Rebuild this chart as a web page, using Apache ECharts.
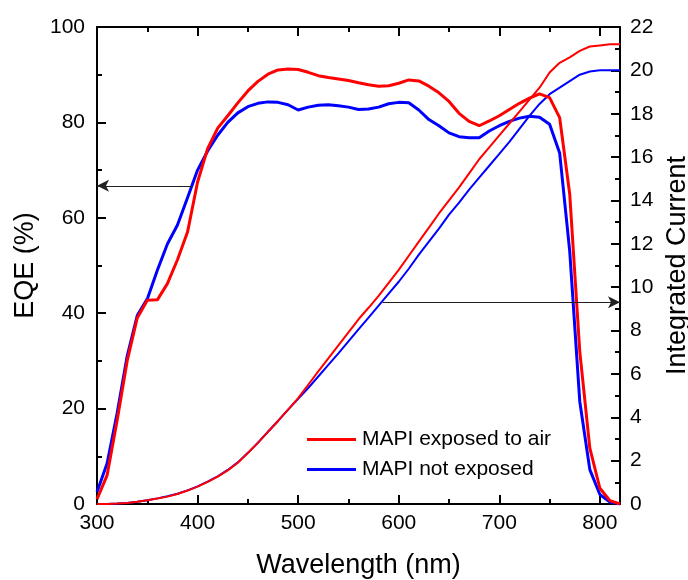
<!DOCTYPE html>
<html>
<head>
  <meta charset="utf-8">
  <title>EQE and integrated current</title>
  <script src="https://cdn.jsdelivr.net/npm/echarts@6/dist/echarts.min.js"></script>
</head>
<style>
  html, body, #chart {
    margin: 0;
    padding: 0;
    width: 688px;
    height: 580px;
    background: #fff;
  }
</style>
<body>
  <div id="chart"></div>
  <script type="text/javascript">
    var wavelength = [300, 310, 320, 330, 340, 350, 360, 370, 380, 390,
      400, 410, 420, 430, 440, 450, 460, 470, 480, 490,
      500, 510, 520, 530, 540, 550, 560, 570, 580, 590,
      600, 610, 620, 630, 640, 650, 660, 670, 680, 690,
      700, 710, 720, 730, 740, 750, 760, 770, 780, 790,
      800, 810, 820];

    // EQE (%) - left axis
    var eqeAir = [1, 6, 17.5, 30, 39, 42.7, 42.8, 46.2, 51.2, 57,
      67.5, 74.5, 78.8, 81.4, 84.1, 86.6, 88.6, 90.1, 91, 91.2,
      91.1, 90.5, 89.8, 89.4, 89.1, 88.8, 88.3, 87.9, 87.6, 87.7,
      88.2, 88.9, 88.7, 87.6, 86.2, 84.4, 81.9, 80.2, 79.3, 80.3,
      81.4, 82.7, 84, 85.1, 86, 85.2, 81, 65, 32, 11.7,
      3.3, 0.7, 0];
    var eqeNot = [2.5, 8.5, 19, 31, 39.5, 43, 49, 54.5, 58.5, 64.2,
      70, 74, 77.3, 80, 82, 83.3, 84, 84.3, 84.2, 83.7,
      82.6, 83.2, 83.6, 83.7, 83.5, 83.2, 82.7, 82.8, 83.2, 83.9,
      84.2, 84.1, 82.6, 80.6, 79.3, 77.8, 77, 76.8, 76.8, 78.2,
      79.3, 80.2, 80.9, 81.3, 81.1, 79.6, 73.6, 53, 21.5, 7.2,
      2, 0.4, 0];

    // integrated current - right axis
    var jAir = [0, 0, 0.02, 0.05, 0.1, 0.17, 0.25, 0.34, 0.46, 0.62,
      0.8, 1.02, 1.26, 1.55, 1.9, 2.35, 2.82, 3.33, 3.83, 4.35,
      4.88, 5.5, 6.12, 6.72, 7.32, 7.92, 8.52, 9.05, 9.6, 10.2,
      10.8, 11.45, 12.1, 12.75, 13.4, 14, 14.6, 15.25, 15.9, 16.45,
      17, 17.55, 18.1, 18.65, 19.2, 19.9, 20.35, 20.6, 20.9, 21.1,
      21.15, 21.2, 21.2];
    var jNot = [0, 0, 0.02, 0.05, 0.1, 0.17, 0.26, 0.36, 0.47, 0.63,
      0.81, 1.03, 1.27, 1.57, 1.92, 2.36, 2.83, 3.33, 3.83, 4.35,
      4.85, 5.35, 5.88, 6.42, 6.95, 7.5, 8.05, 8.6, 9.15, 9.7,
      10.25, 10.85, 11.5, 12.1, 12.7, 13.35, 13.9, 14.5, 15.05, 15.6,
      16.15, 16.7, 17.3, 17.9, 18.45, 18.9, 19.2, 19.5, 19.8, 19.95,
      20, 20, 20];

    var seriesNames = ['MAPI exposed to air', 'MAPI not exposed'];
    // arrows: [from wavelength, to wavelength, value]
    var arrowEqe = [395, 300, 66.7];
    var arrowJ = [584, 820, 9.3];

    function pairs(ys) {
      return wavelength.map(function (x, i) { return [x, ys[i]]; });
    }

    var font = 'Liberation Sans, Arial, sans-serif';
    var black = '#000';

    // major ticks (interval 100) or minor ticks (interval 50) on bottom / top
    function xAxisBase(pos, major, showLabel) {
      return {
        type: 'value', position: pos, min: 300, max: 820, interval: major ? 100 : 50,
        axisLine: { show: major, onZero: false, lineStyle: { color: black, width: 2 } },
        axisTick: { inside: true, length: major ? 9 : 5, lineStyle: { color: black, width: 2 } },
        splitLine: { show: false },
        axisLabel: { show: showLabel, color: black, fontSize: 21, fontFamily: font, margin: 9,
          showMaxLabel: false },
        name: showLabel ? 'Wavelength (nm)' : '',
        nameLocation: 'middle', nameGap: 48,
        nameTextStyle: { color: black, fontSize: 27, fontFamily: font }
      };
    }

    var chart = echarts.init(document.getElementById('chart'));
    chart.setOption({
      animation: false,
      backgroundColor: '#fff',
      grid: { left: 97, right: 68, top: 27, bottom: 76, outerBoundsMode: 'none', containLabel: false },
      legend: {
        data: seriesNames,
        orient: 'vertical',
        left: 302, top: 424,
        icon: 'rect',
        itemWidth: 49, itemHeight: 3, itemGap: 9,
        textStyle: { color: black, fontSize: 21, fontFamily: font, padding: [0, 0, 0, 1] }
      },
      xAxis: [
        xAxisBase('bottom', true, true),
        xAxisBase('bottom', false, false),
        xAxisBase('top', true, false),
        xAxisBase('top', false, false)
      ],
      yAxis: [{
        type: 'value', position: 'left', min: 0, max: 100, interval: 20,
        axisLine: { show: true, lineStyle: { color: black, width: 2 } },
        axisTick: { show: true, inside: true, length: 9, lineStyle: { color: black, width: 2 } },
        minorTick: { show: true, splitNumber: 2, length: 5, lineStyle: { color: black, width: 2 } },
        splitLine: { show: false },
        axisLabel: { color: black, fontSize: 21, fontFamily: font, margin: 12 },
        name: 'EQE (%)', nameLocation: 'middle', nameGap: 54, nameRotate: 90,
        nameTextStyle: { color: black, fontSize: 27, fontFamily: font }
      }, {
        type: 'value', position: 'right', min: 0, max: 22, interval: 2,
        axisLine: { show: true, lineStyle: { color: black, width: 2 } },
        axisTick: { show: true, inside: true, length: 9, lineStyle: { color: black, width: 2 } },
        minorTick: { show: true, splitNumber: 2, length: 5, lineStyle: { color: black, width: 2 } },
        splitLine: { show: false },
        axisLabel: { color: black, fontSize: 21, fontFamily: font, margin: 10 },
        name: 'Integrated Current', nameLocation: 'middle', nameGap: 42, nameRotate: 90,
        nameTextStyle: { color: black, fontSize: 27, fontFamily: font }
      }],
      series: [{
        name: seriesNames[0], type: 'line', yAxisIndex: 0, symbol: 'none',
        data: pairs(eqeAir),
        lineStyle: { color: '#ff0000', width: 3 }, itemStyle: { color: '#ff0000' },
        z: 3,
        markLine: {
          silent: true, symbol: ['none', 'arrow'], symbolSize: [9, 12],
          label: { show: false },
          lineStyle: { color: '#222', width: 1.2, type: 'solid' },
          data: [[{ coord: [arrowEqe[0], arrowEqe[2]] }, { coord: [arrowEqe[1], arrowEqe[2]] }]]
        }
      }, {
        name: seriesNames[1], type: 'line', yAxisIndex: 0, symbol: 'none',
        data: pairs(eqeNot),
        lineStyle: { color: '#0000ff', width: 3 }, itemStyle: { color: '#0000ff' },
        z: 2
      }, {
        name: 'J air', type: 'line', yAxisIndex: 1, symbol: 'none',
        data: pairs(jAir),
        lineStyle: { color: '#ff0000', width: 2 }, itemStyle: { color: '#ff0000' },
        z: 3,
        markLine: {
          silent: true, symbol: ['none', 'arrow'], symbolSize: [9, 12],
          label: { show: false },
          lineStyle: { color: '#222', width: 1.2, type: 'solid' },
          data: [[{ coord: [arrowJ[0], arrowJ[2]] }, { coord: [arrowJ[1], arrowJ[2]] }]]
        }
      }, {
        name: 'J not', type: 'line', yAxisIndex: 1, symbol: 'none',
        data: pairs(jNot),
        lineStyle: { color: '#0000ff', width: 2 }, itemStyle: { color: '#0000ff' },
        z: 2
      }]
    });
  </script>
</body>
</html>
